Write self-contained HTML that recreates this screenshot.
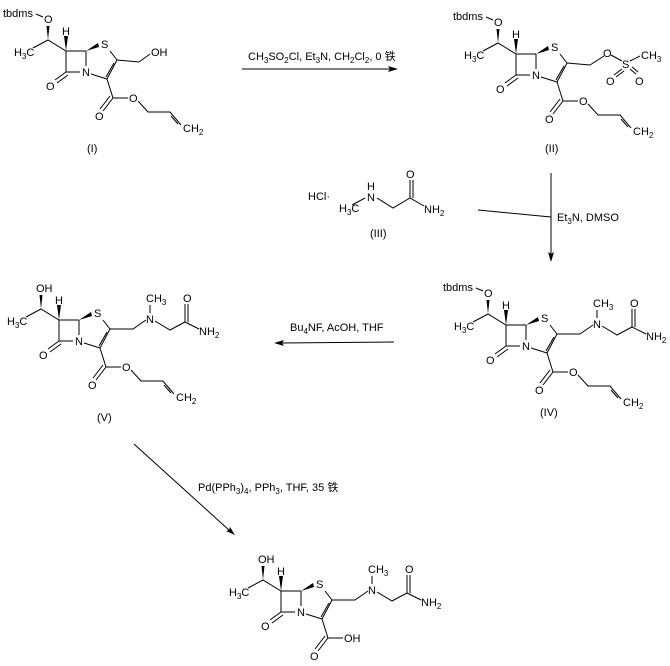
<!DOCTYPE html>
<html><head><meta charset="utf-8"><style>
html,body{margin:0;padding:0;background:#fff}
svg{display:block}
text{font-family:"Liberation Sans","Noto Sans CJK SC",sans-serif;font-size:11px;fill:#000}
.s{font-size:8px}
</style></head><body>
<svg width="670" height="666" viewBox="0 0 670 666" xmlns="http://www.w3.org/2000/svg">
<g stroke="#000" stroke-width="1" fill="none">
<!-- arrows -->
<path d="M242,69L392,69"/><path d="M394,342L280,343"/><path d="M551,173L551,256"/><path d="M478,210L551,217"/><path d="M134,444L230,531"/>
</g>
<g fill="#000">
<polygon points="398,69 388,66 390,69 388,72"/>
<polygon points="274,343 284,340 282,343 284,346"/>
<polygon points="551,262 548,252 551,254 554,252"/>
<polygon points="235,535 226,531 229,530 230,527"/>
</g>
<text x="248" y="60">CH<tspan class="s" dy="3">3</tspan><tspan dy="-3">SO</tspan><tspan class="s" dy="3">2</tspan><tspan dy="-3">Cl, Et</tspan><tspan class="s" dy="3">3</tspan><tspan dy="-3">N, CH</tspan><tspan class="s" dy="3">2</tspan><tspan dy="-3">Cl</tspan><tspan class="s" dy="3">2</tspan><tspan dy="-3">, 0 铁</tspan></text>
<text x="557" y="221">Et<tspan class="s" dy="3">3</tspan><tspan dy="-3">N, DMSO</tspan></text>
<text x="290" y="331">Bu<tspan class="s" dy="3">4</tspan><tspan dy="-3">NF, AcOH, THF</tspan></text>
<text x="198" y="491">Pd(PPh<tspan class="s" dy="3">3</tspan><tspan dy="-3">)</tspan><tspan class="s" dy="3">4</tspan><tspan dy="-3">, PPh</tspan><tspan class="s" dy="3">3</tspan><tspan dy="-3">, THF, 35 铁</tspan></text>

<!-- III -->
<text x="308" y="200">HCl·</text>
<g stroke="#000" fill="none"><path d="M352,205L365,198M377,198L393,208L410,198L424,206M410,198L410,180M413,198L413,180"/></g>
<text x="339" y="212">H<tspan class="s" dy="3">3</tspan><tspan dy="-3">C</tspan></text>
<text x="367" y="201">N</text><text x="367" y="190">H</text>
<text x="406" y="178">O</text>
<text x="424" y="213">NH<tspan class="s" dy="3">2</tspan></text>
<text x="370" y="237">(III)</text>

<!-- labels -->
<text x="87" y="152">(I)</text>
<text x="545" y="152">(II)</text>
<text x="540" y="416">(IV)</text>
<text x="97" y="421">(V)</text>

<!-- Structure I -->
<g transform="translate(0,0)">
<text x="3" y="17">tbdms</text><path d="M36,14L43,17" stroke="#000"/><text x="44" y="23">O</text>
<g stroke="#000" fill="none"><path d="M33,48L48,40L66,51L86,51M86,51L86,66M66,51L66,72L80,72M66,72L55,80M68,75L57,83M91,74L107,79M110,51L117,60L107,79M114,63L106,77M107,79L113,98L128,98M113,98L103,111M110,96L100,109M138,101L148,112L170,112L181,125M171,116L178,124"/>
<path d="M117,60L139,62L150,54"/></g>
<g fill="#000"><polygon points="46.5,26 49.5,26 48,40"/><polygon points="66,51 64,36 68,36"/><polygon points="86,51 98,43 99,47"/></g>
<text x="14" y="56">H<tspan class="s" dy="3">3</tspan><tspan dy="-3">C</tspan></text>
<text x="62" y="35">H</text><text x="101" y="48">S</text><text x="82" y="76">N</text>
<text x="46" y="90">O</text><text x="95" y="120">O</text><text x="129" y="102">O</text>
<text x="183" y="132">CH<tspan class="s" dy="3">2</tspan></text>
<text x="151" y="56">OH</text>
</g>

<!-- Structure II -->
<g transform="translate(450,3)">
<text x="3" y="17">tbdms</text><path d="M36,14L43,17" stroke="#000"/><text x="44" y="23">O</text>
<g stroke="#000" fill="none"><path d="M33,48L48,40L66,51L86,51M86,51L86,66M66,51L66,72L80,72M66,72L55,80M68,75L57,83M91,74L107,79M110,51L117,60L107,79M114,63L106,77M107,79L113,98L128,98M113,98L103,111M110,96L100,109M138,101L148,112L170,112L181,125M171,116L178,124"/>
<path d="M117,60L140,62L154,53M161,52L172,58M180,58L190,53M164,72L172,66M166,74L174,68M180,66L186,71M182,64L188,69"/></g>
<g fill="#000"><polygon points="46.5,26 49.5,26 48,40"/><polygon points="66,51 64,36 68,36"/><polygon points="86,51 98,43 99,47"/></g>
<text x="14" y="56">H<tspan class="s" dy="3">3</tspan><tspan dy="-3">C</tspan></text>
<text x="62" y="35">H</text><text x="101" y="48">S</text><text x="82" y="76">N</text>
<text x="46" y="90">O</text><text x="95" y="120">O</text><text x="129" y="102">O</text>
<text x="183" y="132">CH<tspan class="s" dy="3">2</tspan></text>
<text x="153" y="54">O</text><text x="172" y="65">S</text><text x="191" y="56">CH<tspan class="s" dy="3">3</tspan></text>
<text x="156" y="82">O</text><text x="185" y="82">O</text>
</g>

<!-- Structure IV -->
<g transform="translate(440,274)">
<text x="3" y="17">tbdms</text><path d="M36,14L43,17" stroke="#000"/><text x="44" y="23">O</text>
<g stroke="#000" fill="none"><path d="M33,48L48,40L66,51L86,51M86,51L86,66M66,51L66,72L80,72M66,72L55,80M68,75L57,83M91,74L107,79M110,51L117,60L107,79M114,63L106,77M107,79L113,98L128,98M113,98L103,111M110,96L100,109M138,101L148,112L170,112L181,125M171,116L178,124"/>
<path d="M117,60L140,60L153,51M157,44L157,36M162,52L177,61L192,53L206,60M192,53L192,35M195,53L195,35"/></g>
<g fill="#000"><polygon points="46.5,26 49.5,26 48,40"/><polygon points="66,51 64,36 68,36"/><polygon points="86,51 98,43 99,47"/></g>
<text x="14" y="56">H<tspan class="s" dy="3">3</tspan><tspan dy="-3">C</tspan></text>
<text x="62" y="35">H</text><text x="101" y="48">S</text><text x="82" y="76">N</text>
<text x="46" y="90">O</text><text x="95" y="120">O</text><text x="129" y="102">O</text>
<text x="183" y="132">CH<tspan class="s" dy="3">2</tspan></text>
<text x="153" y="54">N</text><text x="153" y="33">CH<tspan class="s" dy="3">3</tspan></text>
<text x="190" y="33">O</text><text x="206" y="66">NH<tspan class="s" dy="3">2</tspan></text>
</g>

<!-- Structure V -->
<g transform="translate(-7,269)">
<text x="43" y="23">OH</text>
<g stroke="#000" fill="none"><path d="M33,48L48,40L66,51L86,51M86,51L86,66M66,51L66,72L80,72M66,72L55,80M68,75L57,83M91,74L107,79M110,51L117,60L107,79M114,63L106,77M107,79L113,98L128,98M113,98L103,111M110,96L100,109M138,101L148,112L170,112L181,125M171,116L178,124"/>
<path d="M117,60L140,60L153,51M157,44L157,36M162,52L177,61L192,53L206,60M192,53L192,35M195,53L195,35"/></g>
<g fill="#000"><polygon points="46.5,26 49.5,26 48,40"/><polygon points="66,51 64,36 68,36"/><polygon points="86,51 98,43 99,47"/></g>
<text x="14" y="56">H<tspan class="s" dy="3">3</tspan><tspan dy="-3">C</tspan></text>
<text x="62" y="35">H</text><text x="101" y="48">S</text><text x="82" y="76">N</text>
<text x="46" y="90">O</text><text x="95" y="120">O</text><text x="129" y="102">O</text>
<text x="183" y="132">CH<tspan class="s" dy="3">2</tspan></text>
<text x="153" y="54">N</text><text x="153" y="33">CH<tspan class="s" dy="3">3</tspan></text>
<text x="190" y="33">O</text><text x="206" y="66">NH<tspan class="s" dy="3">2</tspan></text>
</g>

<!-- Product -->
<g transform="translate(215,540)">
<text x="43" y="23">OH</text>
<g stroke="#000" fill="none"><path d="M33,48L48,40L66,51L86,51M86,51L86,66M66,51L66,72L80,72M66,72L55,80M68,75L57,83M91,74L107,79M110,51L117,60L107,79M114,63L106,77M107,79L113,98L128,98M113,98L103,111M110,96L100,109"/>
<path d="M117,60L140,60L153,51M157,44L157,36M162,52L177,61L192,53L206,60M192,53L192,35M195,53L195,35"/></g>
<g fill="#000"><polygon points="46.5,26 49.5,26 48,40"/><polygon points="66,51 64,36 68,36"/><polygon points="86,51 98,43 99,47"/></g>
<text x="14" y="56">H<tspan class="s" dy="3">3</tspan><tspan dy="-3">C</tspan></text>
<text x="62" y="35">H</text><text x="101" y="48">S</text><text x="82" y="76">N</text>
<text x="46" y="90">O</text><text x="95" y="120">O</text><text x="129" y="102">OH</text>
<text x="153" y="54">N</text><text x="153" y="33">CH<tspan class="s" dy="3">3</tspan></text>
<text x="190" y="33">O</text><text x="206" y="66">NH<tspan class="s" dy="3">2</tspan></text>
</g>
</svg>
</body></html>
